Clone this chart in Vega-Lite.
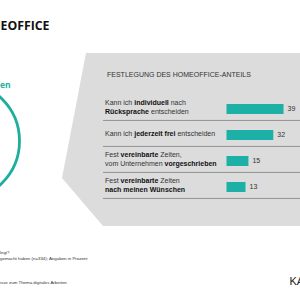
{
  "$schema": "https://vega.github.io/schema/vega-lite/v6.json",
  "width": 300,
  "height": 300,
  "padding": 0,
  "autosize": {"type": "none"},
  "background": "white",
  "config": {"view": {"stroke": null}, "font": "Liberation Sans", "text": {"font": "Liberation Sans"}},
  "layer": [
    {
      "data": {"values": [{}]},
      "mark": {"type": "point", "shape": "M86,53L300,53L300,226L103,226L62,178Z", "size": 4, "filled": true, "color": "#DCDCDC", "opacity": 1, "strokeWidth": 0},
      "encoding": {"x": {"value": 0}, "y": {"value": 0}}
    },
    {
      "data": {"values": [{}]},
      "mark": {"type": "point", "shape": "circle", "size": 14113, "filled": false, "stroke": "#1FAE9E", "strokeWidth": 2.8, "opacity": 1},
      "encoding": {"x": {"value": -39.9}, "y": {"value": 141}}
    },
    {
      "data": {"values": [{"t": "EOFFICE"}]},
      "mark": {"type": "text", "font": "Open Sans", "fontWeight": "bold", "fontSize": 12.3, "align": "left", "baseline": "alphabetic", "color": "#111111"},
      "encoding": {"x": {"value": 0.5}, "y": {"value": 29.5}, "text": {"field": "t"}}
    },
    {
      "data": {"values": [{"t": "en"}]},
      "mark": {"type": "text", "font": "Open Sans", "fontWeight": "bold", "fontSize": 8.5, "align": "left", "baseline": "alphabetic", "color": "#22B0A0"},
      "encoding": {"x": {"value": 0}, "y": {"value": 88}, "text": {"field": "t"}}
    },
    {
      "data": {"values": [{"t": "legt?"}]},
      "mark": {"type": "text", "fontSize": 4.4, "align": "left", "baseline": "middle", "color": "#333333"},
      "encoding": {"x": {"value": 0}, "y": {"value": 253}, "text": {"field": "t"}}
    },
    {
      "data": {"values": [{"t": "gemacht haben (n=334); Angaben in Prozent"}]},
      "mark": {"type": "text", "fontSize": 4.4, "align": "left", "baseline": "middle", "color": "#333333"},
      "encoding": {"x": {"value": 0}, "y": {"value": 258.5}, "text": {"field": "t"}}
    },
    {
      "data": {"values": [{"t": "isse zum Thema digitales Arbeiten"}]},
      "mark": {"type": "text", "fontSize": 4.4, "align": "left", "baseline": "middle", "color": "#333333"},
      "encoding": {"x": {"value": 0}, "y": {"value": 283}, "text": {"field": "t"}}
    },
    {
      "data": {"values": [{"t": "KA"}]},
      "mark": {"type": "text", "fontSize": 11, "align": "left", "baseline": "alphabetic", "color": "#222222"},
      "encoding": {"x": {"value": 289.5}, "y": {"value": 285}, "text": {"field": "t"}}
    },
    {
      "data": {"values": [{"t": "FESTLEGUNG DES HOMEOFFICE-ANTEILS"}]},
      "mark": {"type": "text", "fontSize": 7, "align": "left", "baseline": "middle", "color": "#333333"},
      "encoding": {"x": {"value": 107}, "y": {"value": 75}, "text": {"field": "t"}}
    },
    {
      "data": {"values": [
        {"Festlegung": "Kann ich individuell nach Rücksprache entscheiden", "Anteil": 39},
        {"Festlegung": "Kann ich jederzeit frei entscheiden", "Anteil": 32},
        {"Festlegung": "Fest vereinbarte Zeiten, vom Unternehmen vorgeschrieben", "Anteil": 15},
        {"Festlegung": "Fest vereinbarte Zeiten nach meinen Wünschen", "Anteil": 13}
      ]},
      "encoding": {
        "y": {"field": "Festlegung", "type": "nominal", "axis": null, "scale": {"domain": ["Kann ich individuell nach Rücksprache entscheiden", "Kann ich jederzeit frei entscheiden", "Fest vereinbarte Zeiten, vom Unternehmen vorgeschrieben", "Fest vereinbarte Zeiten nach meinen Wünschen"], "range": [96, 200], "paddingInner": 0, "paddingOuter": 0}}
      },
      "layer": [
        {
          "mark": {"type": "rule", "color": "#8A8A8A", "strokeWidth": 0.9},
          "encoding": {
            "y": {"field": "Festlegung", "type": "nominal", "bandPosition": 0.94, "axis": null, "scale": {"domain": ["Kann ich individuell nach Rücksprache entscheiden", "Kann ich jederzeit frei entscheiden", "Fest vereinbarte Zeiten, vom Unternehmen vorgeschrieben", "Fest vereinbarte Zeiten nach meinen Wünschen"], "range": [96, 200], "paddingInner": 0, "paddingOuter": 0}},
            "x": {"value": 103},
            "x2": {"value": 300}
          }
        },
        {
          "mark": {"type": "bar", "size": 10, "color": "#1CB0A6"},
          "encoding": {
            "x": {"field": "Anteil", "type": "quantitative", "axis": null, "scale": {"domain": [0, 40], "range": [226.5, 285], "nice": false, "zero": true}}
          }
        },
        {
          "mark": {"type": "text", "fontSize": 7, "align": "left", "baseline": "middle", "dx": 4, "color": "#333333"},
          "encoding": {
            "x": {"field": "Anteil", "type": "quantitative", "axis": null, "scale": {"domain": [0, 40], "range": [226.5, 285], "nice": false, "zero": true}},
            "text": {"field": "Anteil", "type": "quantitative"}
          }
        },
        {
          "data": {"values": [
            {"Festlegung": "Kann ich individuell nach Rücksprache entscheiden", "t": "Kann ich"},
            {"Festlegung": "Fest vereinbarte Zeiten, vom Unternehmen vorgeschrieben", "t": "Fest"},
            {"Festlegung": "Fest vereinbarte Zeiten nach meinen Wünschen", "t": "Fest"}
          ]},
          "mark": {"type": "text", "fontSize": 7, "align": "left", "baseline": "middle", "dy": -6, "color": "#333333"},
          "encoding": {"x": {"value": 105}, "text": {"field": "t"}}
        },
        {
          "data": {"values": [
            {"Festlegung": "Kann ich jederzeit frei entscheiden", "t": "Kann ich"}
          ]},
          "mark": {"type": "text", "fontSize": 7, "align": "left", "baseline": "middle", "dy": -1.5, "color": "#333333"},
          "encoding": {"x": {"value": 105}, "text": {"field": "t"}}
        },
        {
          "data": {"values": [
            {"Festlegung": "Fest vereinbarte Zeiten, vom Unternehmen vorgeschrieben", "t": "vom Unternehmen"}
          ]},
          "mark": {"type": "text", "fontSize": 7, "align": "left", "baseline": "middle", "dy": 3, "color": "#333333"},
          "encoding": {"x": {"value": 105}, "text": {"field": "t"}}
        },
        {
          "data": {"values": [
            {"Festlegung": "Kann ich individuell nach Rücksprache entscheiden", "t": "Rücksprache"},
            {"Festlegung": "Fest vereinbarte Zeiten nach meinen Wünschen", "t": "nach meinen Wünschen"}
          ]},
          "mark": {"type": "text", "fontSize": 7, "fontWeight": "bold", "align": "left", "baseline": "middle", "dy": 3, "color": "#111111"},
          "encoding": {"x": {"value": 105}, "text": {"field": "t"}}
        },
        {
          "data": {"values": [
            {"Festlegung": "Kann ich individuell nach Rücksprache entscheiden", "t": "individuell"}
          ]},
          "mark": {"type": "text", "fontSize": 7, "fontWeight": "bold", "align": "left", "baseline": "middle", "dx": 29.2, "dy": -6, "color": "#111111"},
          "encoding": {"x": {"value": 105}, "text": {"field": "t"}}
        },
        {
          "data": {"values": [
            {"Festlegung": "Kann ich jederzeit frei entscheiden", "t": "jederzeit frei"}
          ]},
          "mark": {"type": "text", "fontSize": 7, "fontWeight": "bold", "align": "left", "baseline": "middle", "dx": 29.2, "dy": -1.5, "color": "#111111"},
          "encoding": {"x": {"value": 105}, "text": {"field": "t"}}
        },
        {
          "data": {"values": [
            {"Festlegung": "Fest vereinbarte Zeiten, vom Unternehmen vorgeschrieben", "t": "vereinbarte"},
            {"Festlegung": "Fest vereinbarte Zeiten nach meinen Wünschen", "t": "vereinbarte"}
          ]},
          "mark": {"type": "text", "fontSize": 7, "fontWeight": "bold", "align": "left", "baseline": "middle", "dx": 15.6, "dy": -6, "color": "#111111"},
          "encoding": {"x": {"value": 105}, "text": {"field": "t"}}
        },
        {
          "data": {"values": [
            {"Festlegung": "Kann ich individuell nach Rücksprache entscheiden", "t": "nach"}
          ]},
          "mark": {"type": "text", "fontSize": 7, "align": "left", "baseline": "middle", "dx": 65.7, "dy": -6, "color": "#333333"},
          "encoding": {"x": {"value": 105}, "text": {"field": "t"}}
        },
        {
          "data": {"values": [
            {"Festlegung": "Kann ich individuell nach Rücksprache entscheiden", "t": "entscheiden"}
          ]},
          "mark": {"type": "text", "fontSize": 7, "align": "left", "baseline": "middle", "dx": 46, "dy": 3, "color": "#333333"},
          "encoding": {"x": {"value": 105}, "text": {"field": "t"}}
        },
        {
          "data": {"values": [
            {"Festlegung": "Kann ich jederzeit frei entscheiden", "t": "entscheiden"}
          ]},
          "mark": {"type": "text", "fontSize": 7, "align": "left", "baseline": "middle", "dx": 72.4, "dy": -1.5, "color": "#333333"},
          "encoding": {"x": {"value": 105}, "text": {"field": "t"}}
        },
        {
          "data": {"values": [
            {"Festlegung": "Fest vereinbarte Zeiten, vom Unternehmen vorgeschrieben", "t": "Zeiten,"},
            {"Festlegung": "Fest vereinbarte Zeiten nach meinen Wünschen", "t": "Zeiten"}
          ]},
          "mark": {"type": "text", "fontSize": 7, "align": "left", "baseline": "middle", "dx": 55.3, "dy": -6, "color": "#333333"},
          "encoding": {"x": {"value": 105}, "text": {"field": "t"}}
        },
        {
          "data": {"values": [
            {"Festlegung": "Fest vereinbarte Zeiten, vom Unternehmen vorgeschrieben", "t": "vorgeschrieben"}
          ]},
          "mark": {"type": "text", "fontSize": 7, "fontWeight": "bold", "align": "left", "baseline": "middle", "dx": 59.5, "dy": 3, "color": "#111111"},
          "encoding": {"x": {"value": 105}, "text": {"field": "t"}}
        }
      ]
    }
  ]
}
